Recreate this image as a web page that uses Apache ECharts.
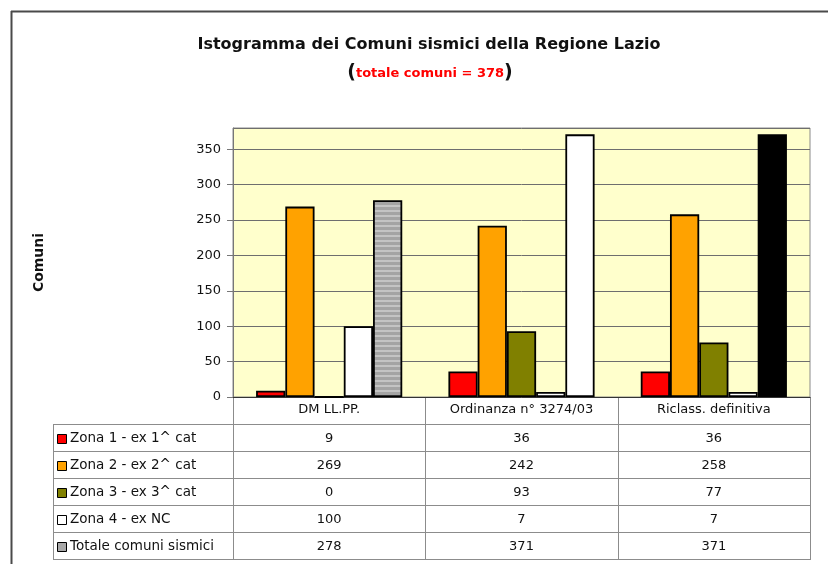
<!DOCTYPE html>
<html>
<head>
<meta charset="utf-8">
<script src="https://cdn.jsdelivr.net/npm/echarts@6/dist/echarts.min.js"></script>
<style>
html,body{margin:0;padding:0;background:#fff;}
#main{width:828px;height:564px;}
</style>
</head>
<body>
<div id="main"></div>
<script>
// ---- data ----
var categories = ['DM LL.PP.', 'Ordinanza n° 3274/03', 'Riclass. definitiva'];
var seriesNames = ['Zona 1 - ex 1^ cat', 'Zona 2 - ex 2^ cat', 'Zona 3 - ex 3^ cat', 'Zona 4 - ex NC', 'Totale comuni sismici'];
var zona1 = [9, 36, 36];
var zona2 = [269, 242, 258];
var zona3 = [0, 93, 77];
var zona4 = [100, 7, 7];
var totale = [278, 371, 371];
var yTicks = [0, 50, 100, 150, 200, 250, 300, 350];
var titleText = 'Istogramma dei Comuni sismici della Regione Lazio';
var subtitleText = 'totale comuni = 378';
var yName = 'Comuni';

// ---- styles ----
var FONT = 'DejaVu Sans';
var seriesColors = ['#FF0000', '#FFA200', '#808000', '#FFFFFF', '#A8A8A8'];
var stripe = document.createElement('canvas');
stripe.width = 8; stripe.height = 5;
var sctx = stripe.getContext('2d');
sctx.fillStyle = '#a4a4a4'; sctx.fillRect(0, 0, 8, 5);
sctx.fillStyle = '#c4c4c4'; sctx.fillRect(0, 0, 8, 2);
var totalStyles = [
  { color: { image: stripe, repeat: 'repeat' } },
  { color: '#FFFFFF' },
  { color: '#000000' }
];
var allSeries = [zona1, zona2, zona3, zona4, totale];

var chart = echarts.init(document.getElementById('main'), null, { renderer: 'canvas' });

var series = allSeries.map(function (arr, si) {
  return {
    name: seriesNames[si],
    type: 'bar',
    barGap: '0%',
    barCategoryGap: '24%',
    itemStyle: { color: seriesColors[si], borderColor: '#000', borderWidth: 1.8 },
    data: arr.map(function (v, ci) {
      if (si === 4) {
        return { value: v, itemStyle: totalStyles[ci] };
      }
      return v;
    }),
    emphasis: { disabled: true },
    animation: false
  };
});

var option = {
  animation: false,
  backgroundColor: '#ffffff',
  title: [
    {
      text: titleText,
      left: 424, textAlign: 'center', top: 32,
      textStyle: { fontFamily: FONT, fontWeight: 'bold', fontSize: 16, color: '#111' }
    },
    {
      text: '{p|(}{r|' + subtitleText + '}{p|)}',
      left: 425, textAlign: 'center', top: 59,
      textStyle: {
        rich: {
          p: { fontFamily: FONT, fontWeight: 'bold', fontSize: 19, color: '#111' },
          r: { fontFamily: FONT, fontWeight: 'bold', fontSize: 13, color: '#FF0000' }
        }
      }
    }
  ],
  grid: {
    left: 233, right: 18, top: 128, bottom: 167,
    show: true, backgroundColor: '#FFFFCC', borderColor: '#8a8a8a', borderWidth: 1
  },
  xAxis: {
    type: 'category',
    data: categories,
    axisLine: { show: true, lineStyle: { color: '#333', width: 1 } },
    axisTick: { show: false },
    axisLabel: { margin: 6, fontFamily: FONT, fontSize: 13, color: '#111' },
    splitLine: { show: false }
  },
  yAxis: {
    type: 'value',
    min: 0, max: 380, interval: 50,
    name: yName,
    nameLocation: 'middle',
    nameRotate: 90,
    nameGap: 187,
    nameTextStyle: { fontFamily: FONT, fontWeight: 'bold', fontSize: 14, color: '#111' },
    axisLine: { show: true, lineStyle: { color: '#777' } },
    axisTick: { show: true, length: 6, lineStyle: { color: '#777' } },
    axisLabel: {
      margin: 12, fontFamily: FONT, fontSize: 13, color: '#111',
      showMaxLabel: false,
      formatter: function (v) { return yTicks.indexOf(v) >= 0 ? String(v) : ''; }
    },
    splitLine: { show: true, lineStyle: { color: '#6e6e6e', width: 1 } }
  },
  series: series
};
chart.setOption(option);

// ---- data table under the plot, aligned to the category axis ----
var cx = categories.map(function (c) { return chart.convertToPixel({ xAxisIndex: 0 }, c); });
var band = cx[1] - cx[0];
var yZero = chart.convertToPixel({ yAxisIndex: 0 }, 0);
var bounds = [];
for (var i = 0; i <= categories.length; i++) bounds.push(cx[0] - band / 2 + i * band);
var tableLeft = 53, rowTop = 424, rowH = 27, nRows = seriesNames.length;
var tableBottom = rowTop + rowH * nRows;
var lineColor = '#8c8c8c';
var els = [];
// frame
els.push({ type: 'line', shape: { x1: 11, y1: 11.5, x2: 828, y2: 11.5 }, style: { stroke: '#4a4a4a', lineWidth: 2 } });
els.push({ type: 'line', shape: { x1: 11.5, y1: 11, x2: 11.5, y2: 564 }, style: { stroke: '#4a4a4a', lineWidth: 2 } });
// vertical lines
els.push({ type: 'line', shape: { x1: tableLeft + 0.5, y1: rowTop, x2: tableLeft + 0.5, y2: tableBottom }, style: { stroke: lineColor, lineWidth: 1 } });
bounds.forEach(function (bx) {
  var x = Math.round(bx) + 0.5;
  els.push({ type: 'line', shape: { x1: x, y1: yZero, x2: x, y2: tableBottom }, style: { stroke: lineColor, lineWidth: 1 } });
});
// horizontal lines
for (var r = 0; r <= nRows; r++) {
  var y = rowTop + r * rowH + 0.5;
  els.push({ type: 'line', shape: { x1: tableLeft, y1: y, x2: Math.round(bounds[bounds.length - 1]) + 1, y2: y }, style: { stroke: lineColor, lineWidth: 1 } });
}
// rows
seriesNames.forEach(function (name, si) {
  var yc = rowTop + si * rowH + rowH / 2 + 1;
  els.push({ type: 'rect', shape: { x: tableLeft + 4.5, y: Math.round(yc - 5) + 0.5, width: 9, height: 9 },
    style: { fill: seriesColors[si], stroke: '#000', lineWidth: 1 } });
  els.push({ type: 'text', x: tableLeft + 17, y: yc,
    style: { text: name, font: '13.5px "' + FONT + '"', fill: '#111', textAlign: 'left', textVerticalAlign: 'middle' } });
  allSeries[si].forEach(function (v, ci) {
    els.push({ type: 'text', x: cx[ci], y: yc,
      style: { text: String(v), font: '13px "' + FONT + '"', fill: '#111', textAlign: 'center', textVerticalAlign: 'middle' } });
  });
});
chart.setOption({ graphic: { elements: els } });
</script>
</body>
</html>
